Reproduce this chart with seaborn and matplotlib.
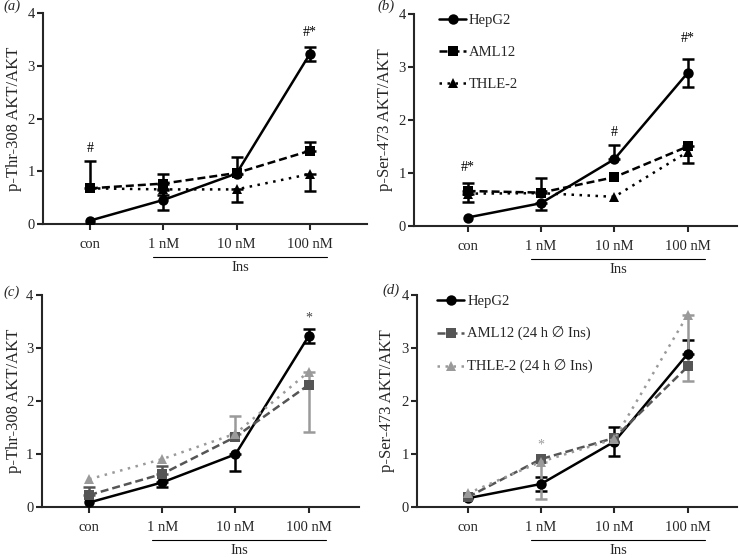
import numpy as np
import pandas as pd
import matplotlib
matplotlib.use("Agg")
import matplotlib.pyplot as plt
import seaborn as sns

cats = ["con", "1 nM", "10 nM", "100 nM"]

# Panel (a) p-Thr-308
a_hep = [0.07, 0.46, 0.96, 3.22]
a_hep_lo = [0, 0.18, 0, 0.13]
a_hep_hi = [0, 0.18, 0.32, 0.14]
a_aml = [0.68, 0.77, 0.97, 1.39]
a_aml_lo = [0, 0, 0, 0]
a_aml_hi = [0.52, 0.19, 0, 0.17]
a_thle = [0.68, 0.66, 0.66, 0.95]
a_thle_lo = [0, 0.1, 0.23, 0.32]
a_thle_hi = [0, 0, 0, 0]

# Panel (b) p-Ser-473
b_hep = [0.16, 0.43, 1.26, 2.89]
b_hep_lo = [0, 0.13, 0, 0.26]
b_hep_hi = [0, 0, 0.27, 0.26]
b_aml = [0.66, 0.63, 0.92, 1.50]
b_aml_lo = [0, 0, 0, 0.31]
b_aml_hi = [0.16, 0.28, 0, 0]
b_thle = [0.61, 0.62, 0.55, 1.40]
b_thle_lo = [0.15, 0, 0, 0]
b_thle_hi = [0, 0, 0, 0]

# Panel (c) p-Thr-308 (24 h without insulin)
c_hep = [0.08, 0.46, 0.99, 3.22]
c_hep_lo = [0, 0.08, 0.31, 0.13]
c_hep_hi = [0, 0, 0, 0.14]
c_aml = [0.22, 0.62, 1.32, 2.30]
c_aml_lo = [0, 0, 0, 0]
c_aml_hi = [0.15, 0.15, 0, 0]
c_thle = [0.52, 0.90, 1.38, 2.55]
c_thle_lo = [0, 0, 0, 1.13]
c_thle_hi = [0, 0, 0.33, 0]

# Panel (d) p-Ser-473 (24 h without insulin)
d_hep = [0.16, 0.43, 1.23, 2.89]
d_hep_lo = [0, 0.14, 0.27, 0]
d_hep_hi = [0, 0.13, 0.28, 0.26]
d_aml = [0.18, 0.90, 1.30, 2.65]
d_aml_lo = [0, 0, 0, 0]
d_aml_hi = [0, 0, 0, 0]
d_thle = [0.25, 0.85, 1.28, 3.63]
d_thle_lo = [0, 0.71, 0, 1.26]
d_thle_hi = [0, 0, 0, 0]

names_ab = ["HepG2", "AML12", "THLE-2"]
names_cd = ["HepG2", "AML12 (24 h \u2205 Ins)", "THLE-2 (24 h \u2205 Ins)"]

sns.set_style("ticks")
plt.rcParams["font.family"] = ["Liberation Serif", "DejaVu Serif", "DejaVu Sans"]
plt.rcParams["axes.linewidth"] = 1.5
plt.rcParams["xtick.major.width"] = 1.5
plt.rcParams["ytick.major.width"] = 1.5
plt.rcParams["xtick.major.size"] = 4
plt.rcParams["ytick.major.size"] = 4

fig = plt.figure(figsize=(7.39, 5.58), dpi=100)

panels = [
    dict(rect=[0.0582, 0.598, 0.4384, 0.3792], xlim=(-0.64, 3.78), names=names_ab,
         series=[(a_hep, a_hep_lo, a_hep_hi), (a_aml, a_aml_lo, a_aml_hi), (a_thle, a_thle_lo, a_thle_hi)],
         colors=["black", "black", "black"], ylabel="p-Thr-308 AKT/AKT", letter="(a)",
         letter_xy=(3, 6), legend=False, legx=0.06,
         notes=[(0, 1.44, "#", "black"), (3, 3.62, "#*", "black")], labx=-0.065),
    dict(rect=[0.5602, 0.595, 0.437, 0.380], xlim=(-0.73, 3.67), names=names_ab,
         series=[(b_hep, b_hep_lo, b_hep_hi), (b_aml, b_aml_lo, b_aml_hi), (b_thle, b_thle_lo, b_thle_hi)],
         colors=["black", "black", "black"], ylabel="p-Ser-473 AKT/AKT", letter="(b)",
         letter_xy=(377, 6), legend=True, legx=0.06,
         notes=[(0, 1.11, "#*", "black"), (2, 1.77, "#", "black"), (3, 3.53, "#*", "black")], labx=-0.065),
    dict(rect=[0.0564, 0.0919, 0.4294, 0.3794], xlim=(-0.65, 3.69), names=names_cd,
         series=[(c_hep, c_hep_lo, c_hep_hi), (c_aml, c_aml_lo, c_aml_hi), (c_thle, c_thle_lo, c_thle_hi)],
         colors=["black", "#555555", "#9a9a9a"], ylabel="p-Thr-308 AKT/AKT", letter="(c)",
         letter_xy=(3, 292), legend=False, legx=0.06,
         notes=[(3, 3.57, "*", "#444444")], labx=-0.062),
    dict(rect=[0.5643, 0.0919, 0.433, 0.3794], xlim=(-0.69, 3.67), names=names_cd,
         series=[(d_hep, d_hep_lo, d_hep_hi), (d_aml, d_aml_lo, d_aml_hi), (d_thle, d_thle_lo, d_thle_hi)],
         colors=["black", "#555555", "#9a9a9a"], ylabel="p-Ser-473 AKT/AKT", letter="(d)",
         letter_xy=(382, 290), legend=True, legx=0.045,
         notes=[(1, 1.17, "*", "#9a9a9a")], labx=-0.069),
]

markers_list = ["o", "s", "^"]
dash_list = ["", (3.2, 1.6), (1, 2.2)]

for p in panels:
    ax = fig.add_axes(p["rect"])
    rows = []
    for name, (vals, lo, hi) in zip(p["names"], p["series"]):
        for i, v in enumerate(vals):
            rows.append({"x": i, "y": v, "series": name})
    df = pd.DataFrame(rows)
    pal = {n: c for n, c in zip(p["names"], p["colors"])}
    mk = {n: m for n, m in zip(p["names"], markers_list)}
    ds = {n: d for n, d in zip(p["names"], dash_list)}
    sns.lineplot(data=df, x="x", y="y", hue="series", style="series", hue_order=p["names"],
                 style_order=p["names"], palette=pal, markers=mk, dashes=ds, ax=ax,
                 linewidth=1.8, markersize=7.5, markeredgewidth=0, legend=p["legend"],
                 errorbar=None, zorder=3)
    for (vals, lo, hi), col in zip(p["series"], p["colors"]):
        xs = np.arange(len(vals))
        for xi, v, l, h in zip(xs, vals, lo, hi):
            if l + h > 0:
                ax.errorbar([xi], [v], yerr=[[l], [h]], fmt="none", ecolor=col,
                            elinewidth=1.8, capsize=4, capthick=1.8, zorder=2.5)
    ax.set_xlim(*p["xlim"])
    ax.set_ylim(0, 4)
    ax.set_yticks([0, 1, 2, 3, 4])
    ax.set_xticks(range(len(cats)))
    ax.set_xticklabels(cats, fontsize=10.5)
    ax.tick_params(axis="y", labelsize=10.5, pad=2)
    ax.tick_params(axis="x", pad=6)
    ax.set_xlabel("")
    ax.set_ylabel(p["ylabel"], fontsize=12)
    ax.yaxis.set_label_coords(p["labx"], 0.5)
    sns.despine(ax=ax)
    ax.plot([0.86, 3.24], [-0.155, -0.155], transform=ax.get_xaxis_transform(),
            clip_on=False, color="black", lw=0.8)
    ax.text(2.05, -0.205, "Ins", transform=ax.get_xaxis_transform(), ha="center",
            va="center", fontsize=10.5)
    for xi, yi, s, col in p["notes"]:
        ax.text(xi, yi, s, ha="center", va="center", fontsize=10, color=col)
    fig.text(p["letter_xy"][0] / 739, 1 - p["letter_xy"][1] / 558, p["letter"],
             fontsize=10.5, style="italic", ha="left", va="center")
    if p["legend"]:
        sns.move_legend(ax, "upper left", bbox_to_anchor=(p["legx"], 1.03), frameon=False,
                        title=None, fontsize=10.5, handlelength=1.85, labelspacing=1.3,
                        handletextpad=0.2, borderaxespad=0)

fig.savefig("out.png", dpi=100)
